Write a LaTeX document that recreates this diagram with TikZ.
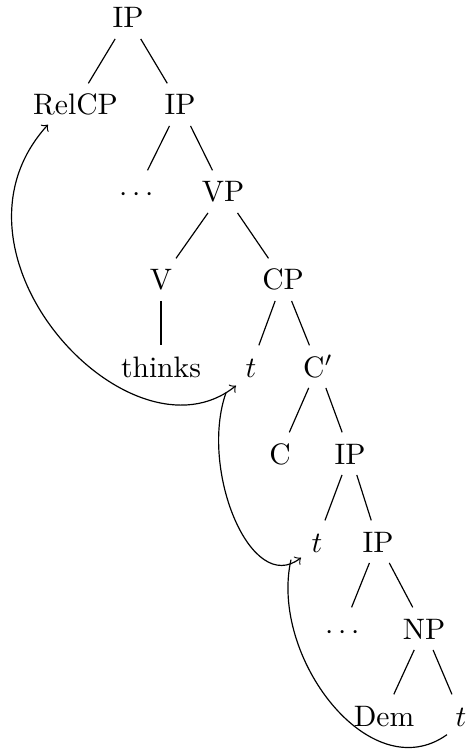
\documentclass[tikz,border=0pt]{standalone}
\usetikzlibrary{calc}
\begin{document}
\begin{tikzpicture}[x=0.338pt, y=-0.338pt,
  lbl/.style={anchor=base, inner sep=2pt, text height=8.5pt, text depth=1.5pt},
  branch/.style={line width=0.4pt},
  move/.style={line width=0.4pt}]
\useasboundingbox (0,0) rectangle (469,752);
% tree nodes, placed by baseline
\node[lbl] (ip0)   at (128,28)  {IP};
\node[lbl] (relcp) at (75.5,115) {RelCP};
\node[lbl] (ip1)   at (180,115) {IP};
\node[lbl] (dots1) at (137,202) {$\cdots$};
\node[lbl] (vp)    at (223,202) {VP};
\node[lbl] (v)     at (161,290) {V};
\node[lbl] (cp)    at (283,290) {CP};
\node[lbl] (thinks) at (161,377) {thinks};
\node[lbl] (t1)    at (251,377) {$t$};
\node[lbl] (cbar)  at (318,377) {C$'$};
\node[lbl] (c)     at (280,464) {C};
\node[lbl] (ip2)   at (350,464) {IP};
\node[lbl] (t2)    at (317,552) {$t$};
\node[lbl] (ip3)   at (378,552) {IP};
\node[lbl] (dots2) at (343,639) {$\cdots$};
\node[lbl] (np)    at (424,639) {NP};
\node[lbl] (dem)   at (384,726) {Dem};
\node[lbl] (t3)    at (461,726) {$t$};
% branches
\draw[branch] (ip0) -- (relcp);
\draw[branch] (ip0) -- (ip1);
\draw[branch] (ip1) -- (dots1);
\draw[branch] (ip1) -- (vp);
\draw[branch] (vp) -- (v);
\draw[branch] (vp) -- (cp);
\draw[branch] (v) -- (thinks);
\draw[branch] (cp) -- (t1);
\draw[branch] (cp) -- (cbar);
\draw[branch] (cbar) -- (c);
\draw[branch] (cbar) -- (ip2);
\draw[branch] (ip2) -- (t2);
\draw[branch] (ip2) -- (ip3);
\draw[branch] (ip3) -- (dots2);
\draw[branch] (ip3) -- (np);
\draw[branch] (np) -- (dem);
\draw[branch] (np) -- (t3);
% movement arcs
\draw[move,<->] ($(t1)+(-15,19)$) .. controls +(-105,84) and +(-118,130) .. ($(relcp)+(-27.5,20)$);
\draw[move,->] ($(t1)+(-25,26)$) .. controls +(-27,77) and +(-50,39) .. ($(t2)+(-16,16)$);
\draw[move] ($(t2)+(-26,18)$) .. controls +(-22,97) and +(-77,55) .. ($(t3)+(-14,19)$);
\end{tikzpicture}
\end{document}
